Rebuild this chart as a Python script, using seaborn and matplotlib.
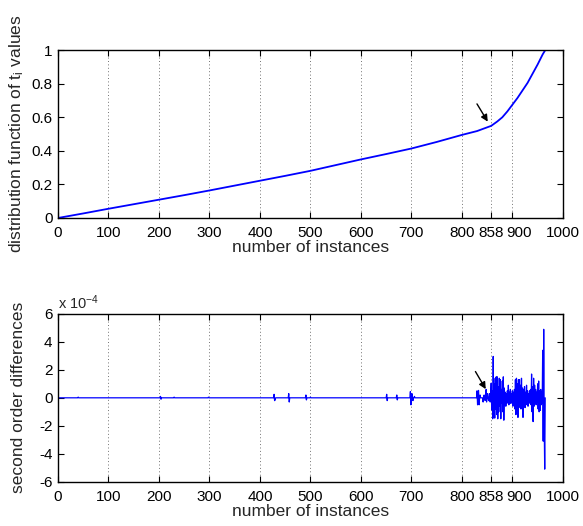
import numpy as np
import pandas as pd
import seaborn as sns
import matplotlib.pyplot as plt
from matplotlib.transforms import ScaledTranslation

sns.set_style('ticks')
plt.rcParams['font.family'] = ['Liberation Sans', 'DejaVu Sans']
plt.rcParams['mathtext.fontset'] = 'custom'
plt.rcParams['mathtext.rm'] = 'Liberation Sans'
plt.rcParams['mathtext.it'] = 'Liberation Sans:italic'

# top panel: distribution function of t_i
cdf_x = [0, 50, 100, 150, 200, 250, 300, 350, 400, 450, 500, 550, 600, 650, 700,
         750, 800, 830, 858, 870, 880, 890, 900, 910, 920, 930, 940, 950, 960, 965]
cdf_y = [0, 0.027, 0.055, 0.082, 0.109, 0.136, 0.164, 0.193, 0.222, 0.251, 0.281,
         0.315, 0.349, 0.381, 0.414, 0.453, 0.495, 0.518, 0.549, 0.575, 0.600,
         0.635, 0.675, 0.715, 0.760, 0.805, 0.860, 0.915, 0.975, 1.0]

# bottom panel: second order differences (units of 1e-4), zero elsewhere
spike_x = [40, 203, 204, 230, 298, 428, 429, 430, 457, 458, 491, 492, 500,
           651, 652, 671, 672, 698, 699, 701, 703, 706,
           830, 831, 833, 834, 836, 842, 844, 846, 848, 849, 851, 853, 855, 856, 857]
spike_y = [0.05, 0.1, -0.1, 0.05, 0.05, 0.25, -0.2, -0.15, 0.3, -0.3, 0.2, -0.15, 0.05,
           0.25, -0.2, 0.2, -0.15, 0.45, -0.5, 0.3, -0.2, 0.1,
           0.5, -0.5, 0.53, -0.5, 0.2, -0.3, 0.2, -0.2, 0.6, -0.3, 0.3, -0.2, 0.3, -0.3, 0.2]

dense_start = 858
dense_y = [1.05, -0.86, 0.5, -1.5, 2.96, -1.4, 1.0, -1.45, 1.4, -0.8,
           1.5, -1.2, 1.5, -1.5, 0.8, -1.0, 1.4, -0.6, 1.3, -1.5,
           0.6, -0.4, 1.2, -1.0, 1.5, -1.6, 0.7, -0.5, 0.4, -0.6,
           0.3, -0.4, 0.5, -0.3, 0.9, -0.5, 0.4, -0.2, 0.6, -0.4,
           0.3, -0.3, 0.5, -0.6, 0.4, -0.2, 0.6, -0.8, 1.3, -1.2,
           1.4, -0.6, 1.0, -1.4, 1.3, -0.7, 1.3, -0.5, 0.9, -0.8,
           1.4, -0.6, 0.7, -1.4, 0.6, -0.5, 0.8, -0.7, 0.4, -0.5,
           0.9, -0.4, 0.5, -0.6, 0.3, -0.3, 0.5, -0.4, 0.6, -0.5,
           1.7, -1.0, 0.8, -1.7, 1.4, -0.6, 0.9, -0.4, 0.6, -0.5,
           0.4, -0.3, 1.0, -0.8, 1.2, -1.0, 0.5, -0.9, 0.6, -0.5,
           0.4, -0.4, 3.4, -3.1, 4.9, -2.0, -5.1, 0.0]

diff = pd.Series(0.0, index=np.arange(1, dense_start))
diff[spike_x] = spike_y
diff = pd.concat([diff, pd.Series(dense_y, index=np.arange(dense_start, dense_start + len(dense_y)))])

xticks = [0, 100, 200, 300, 400, 500, 600, 700, 800, 858, 900, 1000]

fig = plt.figure(figsize=(5.83, 5.26), dpi=100)
ax1 = fig.add_axes([0.0995, 0.5856, 0.866, 0.319])
ax2 = fig.add_axes([0.0995, 0.0842, 0.866, 0.319])

sns.lineplot(x=cdf_x, y=cdf_y, ax=ax1, color='#0000ff', linewidth=1.3, estimator=None)
sns.lineplot(x=diff.index, y=diff.values, ax=ax2, color='#0000ff', linewidth=0.9, estimator=None)

for ax in (ax1, ax2):
    ax.set_xlim(0, 1000)
    ax.set_xticks(xticks)
    ax.set_xticklabels([str(t) for t in xticks])
    ax.xaxis.grid(True, linestyle=(0, (1, 2.5)), color='0.45', linewidth=0.7)
    ax.yaxis.grid(False)
    ax.tick_params(direction='in', top=True, right=True, labelsize=11,
                   length=4, width=0.8, colors='k')
    ax.tick_params(axis='x', pad=6)
    ax.tick_params(axis='y', pad=4)
    for s in ax.spines.values():
        s.set_visible(True)
        s.set_color('k')
        s.set_linewidth(1.0)
    ax.set_xlabel('number of instances', fontsize=12.5, labelpad=0)
    # 900 label sits a little right of its tick in the original
    for lab in ax.get_xticklabels():
        if lab.get_text() == '900':
            lab.set_transform(lab.get_transform() + ScaledTranslation(0.07, 0, fig.dpi_scale_trans))

ax1.set_ylim(0, 1)
ax1.set_yticks([0, 0.2, 0.4, 0.6, 0.8, 1])
ax1.set_yticklabels(['0', '0.2', '0.4', '0.6', '0.8', '1'])
ax1.set_ylabel(r'distribution function of t$_{\mathrm{i}}$ values', fontsize=12.5)
ax1.yaxis.set_label_coords(-0.063, 0.5)

ax2.set_ylim(-6, 6)
ax2.set_yticks([-6, -4, -2, 0, 2, 4, 6])
ax2.set_yticklabels(['-6', '-4', '-2', '0', '2', '4', '6'])
ax2.set_ylabel('second order differences', fontsize=12.5)
ax2.yaxis.set_label_coords(-0.063, 0.5)
ax2.text(0.0, 1.01, r'x 10$^{-4}$', transform=ax2.transAxes, fontsize=10.5,
         ha='left', va='bottom')

ax1.annotate('', xy=(854, 0.56), xytext=(827, 0.694),
             arrowprops=dict(arrowstyle='-|>', color='k', lw=1.0, mutation_scale=10))
ax2.annotate('', xy=(850, 0.45), xytext=(824, 2.05),
             arrowprops=dict(arrowstyle='-|>', color='k', lw=1.0, mutation_scale=10))

fig.savefig('out.png', dpi=100)
